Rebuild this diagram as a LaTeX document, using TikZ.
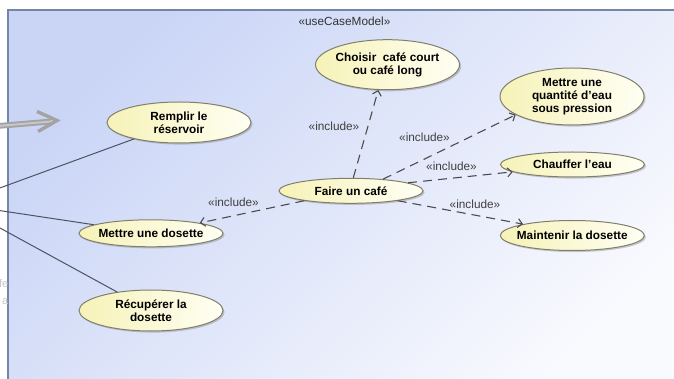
\documentclass[tikz,border=0pt]{standalone}
\usepackage{fontspec}
\setmainfont{Liberation Sans}
\usetikzlibrary{arrows.meta,shapes.geometric,shadows}
\definecolor{frameline}{HTML}{7585A8}
\definecolor{bgA}{HTML}{CAD5F6}
\definecolor{bgB}{HTML}{F9FAFE}
\definecolor{ucline}{HTML}{80806A}
\definecolor{ucA}{HTML}{F6F2B8}
\definecolor{ucB}{HTML}{FFFFF4}
\definecolor{depline}{HTML}{4C4C4C}
\definecolor{assoc}{HTML}{4E5262}

\begin{document}
\begin{tikzpicture}[x=1pt,y=-1pt,
  usecase/.style={ellipse, draw=ucline, line width=1pt, left color=ucA, right color=ucB,
    inner sep=0pt, minimum width=144pt,
    drop shadow={shadow xshift=1.6pt, shadow yshift=-1.6pt, fill=black!45, opacity=.45}},
  uctext/.style={font=\fontsize{11.8}{13.2}\selectfont\bfseries, align=center, text=black, inner sep=0pt},
  include/.style={draw=depline, line width=1.1pt, dash pattern=on 9pt off 6pt,
    -{Straight Barb[length=4.5pt,width=9pt,line width=1.1pt]}},
  stereo/.style={font=\fontsize{11.8}{13}\selectfont, text=black!75, inner sep=0pt},
  assocline/.style={draw=assoc, line width=1pt},
  ghost/.style={font=\fontsize{11}{17}\selectfont, text=black!22, align=right, inner sep=0pt}
]
\useasboundingbox (0,0) rectangle (674,379);
\clip (0,0) rectangle (674,379);

% model frame with its gradient background
\shade[top color=bgA, bottom color=bgB, shading angle=45] (8,10) rectangle (690,395);
\draw[frameline, line width=1.1pt] (8,395) -- (8,10) -- (690,10);
\node[font=\fontsize{11.8}{13}\selectfont, text=black!80] (title) at (344.5,21) {«useCaseModel»};

% actor caption fragment and the incoming arrow
\node[ghost, anchor=east] (actorname) at (8.5,292.5) {fe\\a};
\coordinate (arrS) at (-8,126.5);
\coordinate (arrE) at (51,121.5);
\draw[draw=gray!72, double=gray!45, double distance=2pt, line width=1.9pt] (arrS) -- (arrE);
\draw[gray!72, line width=3.4pt, line join=miter] (37,111.5) -- (57,120.5) -- (38,131.5);

% use cases
\node[usecase, minimum height=50pt, label={[uctext]center:Choisir\ \ café court\\ou café long}] (choisir) at (387.5,64.7) {};
\node[usecase, minimum height=57pt, label={[uctext]center:Mettre une\\quantité d'eau\\sous pression}] (quant) at (572,96.5) {};
\node[usecase, minimum height=41pt, label={[uctext]center:Remplir le\\réservoir}] (remplir) at (179,122.5) {};
\node[usecase, minimum height=25pt, label={[uctext]center:Chauffer l'eau}] (chauffer) at (572.5,164.5) {};
\node[usecase, minimum height=25pt, label={[uctext]center:Faire un café}] (faire) at (351,190.8) {};
\node[usecase, minimum height=27pt, label={[uctext]center:Mettre une dosette}] (dosette) at (151,233.3) {};
\node[usecase, minimum height=30pt, label={[uctext]center:Maintenir la dosette}] (maintenir) at (572.3,235.5) {};
\node[usecase, minimum height=41pt, label={[uctext]center:Récupérer la\\dosette}] (recup) at (151,310.5) {};

% associations with the actor standing left of the view
\coordinate (actor) at (-44,204);
\draw[assocline] (actor) -- (remplir);
\draw[assocline] (actor) -- (dosette);
\draw[assocline] (actor) -- (recup);

% include dependencies
\draw[include] (faire.80) -- (choisir.250);
\draw[include] (faire.20) -- (quant.198);
\draw[include] (faire.8) -- (chauffer.187);
\draw[include] (faire.348) -- (maintenir.167);
\draw[include] (faire.192) -- (dosette.12);

\node[stereo] (inc1) at (334,126.5) {«include»};
\node[stereo] (inc2) at (424.5,137.5) {«include»};
\node[stereo] (inc3) at (451.5,166) {«include»};
\node[stereo] (inc4) at (475,204) {«include»};
\node[stereo] (inc5) at (233.5,202.7) {«include»};
\end{tikzpicture}
\end{document}
